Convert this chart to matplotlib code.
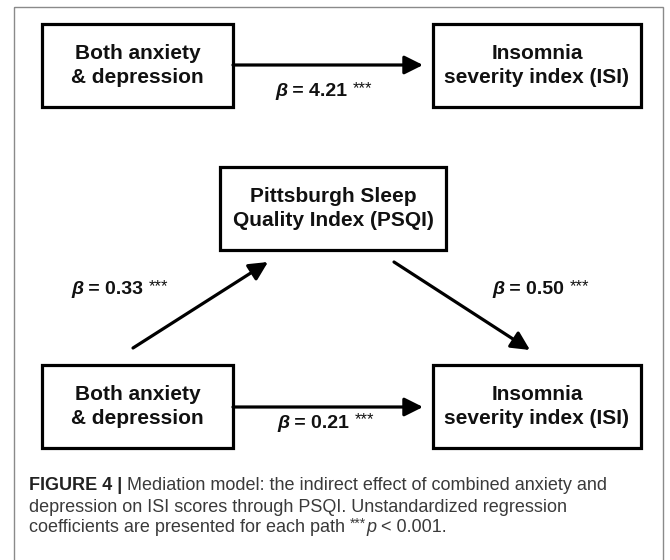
import matplotlib.pyplot as plt
from matplotlib.patches import Rectangle, FancyArrowPatch

plt.rcParams['font.family'] = ['Liberation Sans', 'DejaVu Sans']

# --- content ---
box_labels = ["Both anxiety\n& depression", "Insomnia\nseverity index (ISI)",
              "Pittsburgh Sleep\nQuality Index (PSQI)",
              "Both anxiety\n& depression", "Insomnia\nseverity index (ISI)"]
path_betas = ["4.21", "0.33", "0.50", "0.21"]
sig_mark = "***"
caption_bold = "FIGURE 4 | "
caption_lines = ["Mediation model: the indirect effect of combined anxiety and",
                 "depression on ISI scores through PSQI. Unstandardized regression",
                 "coefficients are presented for each path "]
p_value = " < 0.001."

# --- layout (pixel coords, y down) ---
box_rects = [(42, 24, 233, 107), (433, 24, 641, 107), (220, 167, 446, 250),
             (42, 365, 233, 448), (433, 365, 641, 448)]
arrow_ends = [((233, 65), (423, 65)), ((133, 348), (268, 262)),
              ((394, 262), (530, 350)), ((233, 407), (423, 407))]
label_pos = [(275, 92), (71, 290), (492, 290), (277, 423)]
caption_y = [485, 507, 528]

fig = plt.figure(figsize=(6.7, 5.6), dpi=100)
ax = fig.add_axes([0, 0, 1, 1])
ax.set_xlim(0, 670)
ax.set_ylim(560, 0)
ax.axis('off')

# outer frame
ax.add_patch(Rectangle((14, 7), 649, 560, fill=False, ec='#8a8a8a', lw=1.0))

for (x0, y0, x1, y1), lab in zip(box_rects, box_labels):
    ax.add_patch(Rectangle((x0, y0), x1 - x0, y1 - y0, fill=False, ec='black', lw=2.3))
    ax.text((x0 + x1) / 2, (y0 + y1) / 2, lab, ha='center', va='center',
            fontsize=15, fontweight='bold', color='#111111', linespacing=1.28)

for a, b in arrow_ends:
    ax.add_patch(FancyArrowPatch(a, b, arrowstyle='-|>,head_length=0.7,head_width=0.35',
                                 mutation_scale=16, lw=2.3, color='black',
                                 shrinkA=0, shrinkB=0))

for (x, y), beta in zip(label_pos, path_betas):
    t = ax.text(x, y, "β", ha='left', va='center', fontsize=14,
                fontweight='bold', style='italic', color='#111111')
    t2 = ax.annotate(" = " + beta + " ", xy=(1, 0), xycoords=t, ha='left', va='bottom',
                     fontsize=14, fontweight='bold', color='#111111')
    ax.annotate(sig_mark, xy=(1, 0.45), xycoords=t2, ha='left', va='baseline',
                fontsize=12, color='#111111')

# caption
t = ax.text(29, caption_y[0], caption_bold, ha='left', va='center', fontsize=13,
            fontweight='bold', color='#222222')
ax.annotate(caption_lines[0], xy=(1, 0), xycoords=t, ha='left', va='bottom',
            fontsize=13, color='#3a3a3a')
for line, y in zip(caption_lines[1:], caption_y[1:]):
    t = ax.text(29, y, line, ha='left', va='center', fontsize=13, color='#3a3a3a')
# tail of the last line: ***p < 0.001.
ax.annotate(sig_mark, xy=(1, 0.5), xycoords=t, ha='left', va='baseline',
            fontsize=10, color='#3a3a3a')
t = ax.annotate("p", xy=(1, 0), xycoords=t, xytext=(11.5, 0), textcoords='offset points',
                ha='left', va='bottom', fontsize=13, style='italic', color='#3a3a3a')
ax.annotate(p_value, xy=(1, 0), xycoords=t, ha='left', va='bottom',
            fontsize=13, color='#3a3a3a')

fig.savefig('out.png', dpi=100)
